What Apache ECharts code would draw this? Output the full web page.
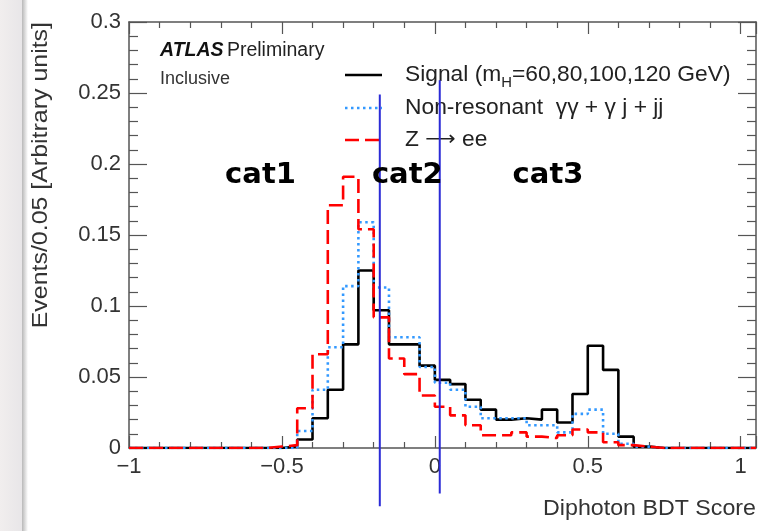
<!DOCTYPE html>
<html>
<head>
<meta charset="utf-8">
<script src="https://cdn.jsdelivr.net/npm/echarts@6/dist/echarts.min.js"></script>
<style>
html,body{margin:0;padding:0;background:#fff;}
#c{width:775px;height:531px;}
</style>
</head>
<body>
<div id="c"></div>
<script>
// ---- data ----
const binStart = -1;
const binWidth = 0.05;
// bins: -1.00, -0.95, ... , 1.00 (41 bins)
const signal = [0,0,0,0,0,0,0,0,0,0,
  0.001,0.006,0.021,0.041,0.073,0.125,0.097,0.073,0.073,0.058,
  0.048,0.045,0.034,0.027,0.020,0.021,0.020,0.027,0.018,0.038,
  0.072,0.055,0.008,0.001,0,0,0,0,0,0,0];
const nonResonant = [0,0,0,0,0,0,0,0,0,0,
  0,0.012,0.041,0.071,0.114,0.159,0.113,0.078,0.078,0.057,
  0.046,0.041,0.029,0.021,0.021,0.021,0.016,0.016,0.011,0.024,
  0.027,0.010,0.003,0.001,0,0,0,0,0,0,0];
const zee = [0,0,0,0,0,0,0,0,0,0.001,
  0.002,0.028,0.066,0.171,0.191,0.154,0.092,0.063,0.052,0.037,
  0.029,0.023,0.016,0.009,0.009,0.011,0.008,0.007,0.009,0.013,
  0.011,0.004,0.002,0.001,0,0,0,0,0,0,0];
const xTicks = [-1, -0.5, 0, 0.5, 1];
const yTicks = [0, 0.05, 0.1, 0.15, 0.2, 0.25, 0.3];
const catBoundaries = [-0.18, 0.016];
const catLabels = ['cat1', 'cat2', 'cat3'];
const legendLabels = ['Signal (m{sub|H}=60,80,100,120 GeV)', 'Non-resonant  γγ + γ j + jj', 'Z {arr|⟶} ee'];
const xTitle = 'Diphoton BDT Score';
const yTitle = 'Events/0.05 [Arbitrary units]';

function toSteps(vals) {
  const pts = vals.map((v, i) => [Math.round((binStart + i * binWidth) * 1000) / 1000, v]);
  pts.push([Math.round((binStart + vals.length * binWidth) * 1000) / 1000, vals[vals.length - 1]]);
  return pts;
}

const FONT = '"Liberation Sans", Arial, sans-serif';
const AX = '#555';
const colors = { sig: '#000000', bkg: '#3399ff', zee: '#ff0000' };

const chart = echarts.init(document.getElementById('c'), null, { renderer: 'canvas' });

const fmt = v => String(v).replace('-', '\u2212');

const commonX = {
  type: 'value', min: -1, max: 1.05, interval: 0.5,
  axisLine: { show: true, onZero: false, lineStyle: { color: AX, width: 1.5 } },
  axisTick: { show: true, inside: true, length: 12, lineStyle: { color: AX, width: 1.2 } },
  minorTick: { show: true, splitNumber: 5, length: 6, lineStyle: { color: AX, width: 1.2 } },
  splitLine: { show: false }, minorSplitLine: { show: false }
};
const commonY = {
  type: 'value', min: 0, max: 0.3, interval: 0.05,
  axisLine: { show: true, onZero: false, lineStyle: { color: AX, width: 1.5 } },
  axisTick: { show: true, inside: true, length: 18, lineStyle: { color: AX, width: 1.2 } },
  minorTick: { show: true, splitNumber: 5, length: 9, lineStyle: { color: AX, width: 1.2 } },
  splitLine: { show: false }, minorSplitLine: { show: false }
};

const option = {
  backgroundColor: '#fff',
  animation: false,
  grid: { left: 129, right: 19, top: 22, bottom: 83, containLabel: false },
  xAxis: [
    Object.assign({}, commonX, {
      position: 'bottom',
      axisLabel: { show: true, margin: 8, fontSize: 22, color: '#333', fontFamily: FONT,
        showMaxLabel: false,
        formatter: v => xTicks.indexOf(v) >= 0 ? fmt(v) : '' }
    }),
    Object.assign({}, commonX, { position: 'top', axisLabel: { show: false } })
  ],
  yAxis: [
    Object.assign({}, commonY, {
      position: 'left',
      axisLabel: { show: true, margin: 8, fontSize: 22, color: '#333', fontFamily: FONT,
        formatter: v => yTicks.indexOf(Math.round(v * 100) / 100) >= 0 ? String(Math.round(v * 100) / 100) : '' }
    }),
    Object.assign({}, commonY, { position: 'right', axisLabel: { show: false } })
  ],
  series: [
    { name: 'Signal', type: 'line', step: 'end', showSymbol: false, symbol: 'none',
      data: toSteps(signal), lineStyle: { color: colors.sig, width: 2.6 }, z: 3 },
    { name: 'Non-resonant', type: 'line', step: 'end', showSymbol: false, symbol: 'none',
      data: toSteps(nonResonant), lineStyle: { color: colors.bkg, width: 2.6, type: [2.5, 3.5] }, z: 4 },
    { name: 'Zee', type: 'line', step: 'end', showSymbol: false, symbol: 'none',
      data: toSteps(zee), lineStyle: { color: colors.zee, width: 2.6, type: [14, 6] }, z: 5 }
  ]
};
chart.setOption(option);

// ---- annotations positioned with the chart's own scales ----
const P = (x, y) => chart.convertToPixel({ xAxisIndex: 0, yAxisIndex: 0 }, [x, y]);
const g = [];

// faded background strip at left
g.push({ type: 'rect', shape: { x: 0, y: 0, width: 22, height: 531 },
  style: { fill: new echarts.graphic.LinearGradient(0, 0, 1, 0, [
    { offset: 0, color: '#f1eeee' }, { offset: 1, color: '#e8e6e8' }]) }, z: 0 });
g.push({ type: 'rect', shape: { x: 22, y: 0, width: 6, height: 531 },
  style: { fill: new echarts.graphic.LinearGradient(0, 0, 1, 0, [
    { offset: 0, color: '#b8b8b8' }, { offset: 1, color: '#ffffff' }]) }, z: 0 });

// legend
const legY = [75, 108, 140];
const legStyles = [
  { stroke: colors.sig, lineWidth: 2.6 },
  { stroke: colors.bkg, lineWidth: 2.6, lineDash: [2.5, 3.5] },
  { stroke: colors.zee, lineWidth: 2.6, lineDash: [14, 6] }
];
legendLabels.forEach((lab, i) => {
  g.push({ type: 'line', shape: { x1: 345, y1: legY[i], x2: 382, y2: legY[i] }, style: legStyles[i], z: 10 });
  g.push({ type: 'text', x: 405, y: legY[i], z: 10, scaleX: 1.06,
    style: { text: lab, fontFamily: FONT, fontSize: 21.5, fill: '#222', verticalAlign: 'middle', align: 'left',
      rich: { sub: { fontSize: 14, fontFamily: FONT, fill: '#222', padding: [16, 0, 0, 0] },
              arr: { fontSize: 20, fontFamily: '"DejaVu Sans", sans-serif', fill: '#222' } } } });
});

// ATLAS Preliminary / Inclusive
g.push({ type: 'text', x: 160, y: 51, z: 10,
  style: { text: '{b|ATLAS} {n|Preliminary}', verticalAlign: 'middle',
    rich: { b: { fontFamily: FONT, fontSize: 19.5, fontWeight: 'bold', fontStyle: 'italic', fill: '#111' },
            n: { fontFamily: FONT, fontSize: 19.5, fill: '#222' } } } });
g.push({ type: 'text', x: 160, y: 79, z: 10,
  style: { text: 'Inclusive', fontFamily: FONT, fontSize: 18, fill: '#333', verticalAlign: 'middle' } });

// axis titles
g.push({ type: 'text', x: 756, y: 509, z: 10, scaleX: 1.08,
  style: { text: xTitle, fontFamily: FONT, fontSize: 21.5, fill: '#333', align: 'right', verticalAlign: 'middle' } });
g.push({ type: 'text', x: 41, y: 22, rotation: Math.PI / 2, scaleX: 1.16, z: 10,
  style: { text: yTitle, fontFamily: FONT, fontSize: 21.5, fill: '#333', align: 'right', verticalAlign: 'middle' } });

// category boundaries
const lineTops = [0.249, 0.259];
const lineBots = [-0.041, -0.032];
catBoundaries.forEach((xb, i) => {
  const a = P(xb, lineTops[i]);
  const b = P(xb, lineBots[i]);
  g.push({ type: 'line', shape: { x1: a[0], y1: a[1], x2: b[0], y2: b[1] },
    style: { stroke: '#2b2bd6', lineWidth: 2 }, z: 20 });
});

// category labels
const catX = [-0.57, -0.09, 0.37];
catLabels.forEach((t, i) => {
  const p = P(catX[i], 0.192);
  g.push({ type: 'text', x: p[0], y: p[1], z: 30,
    style: { text: t, fontFamily: '"DejaVu Sans", sans-serif', fontWeight: 'bold', fontSize: 29,
      fill: '#000', align: 'center', verticalAlign: 'middle' } });
});

chart.setOption({ graphic: g });
</script>
</body>
</html>
